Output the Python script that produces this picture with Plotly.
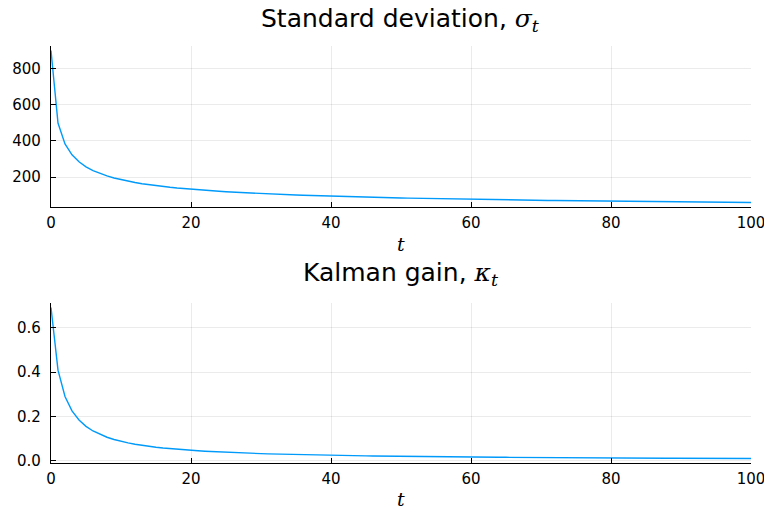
import plotly.graph_objects as go

t = list(range(101))

sigma = [900.0, 499.2, 383.8, 323.3, 284.6, 257.1, 236.4, 219.9, 206.5, 195.2,
         185.7, 177.4, 170.1, 163.6, 157.9, 152.7, 148.0, 143.7, 139.7, 136.1,
         132.7, 129.6, 126.6, 123.9, 121.4, 118.9, 116.7, 114.5, 112.5, 110.6,
         108.7, 107.0, 105.3, 103.8, 102.2, 100.8, 99.4, 98.1, 96.8, 95.5,
         94.3, 93.2, 92.1, 91.0, 90.0, 89.0, 88.0, 87.1, 86.2, 85.3,
         84.5, 83.7, 82.9, 82.1, 81.3, 80.6, 79.9, 79.2, 78.5, 77.8,
         77.2, 76.5, 75.9, 75.3, 74.7, 74.2, 73.6, 73.1, 72.5, 72.0,
         71.5, 71.0, 70.5, 70.0, 69.5, 69.1, 68.6, 68.2, 67.7, 67.3,
         66.9, 66.5, 66.1, 65.7, 65.3, 64.9, 64.5, 64.2, 63.8, 63.4,
         63.1, 62.7, 62.4, 62.1, 61.7, 61.4, 61.1, 60.8, 60.5, 60.2,
         59.9]

kappa = [0.6923, 0.4091, 0.2903, 0.2250, 0.1837, 0.1552, 0.1343, 0.1184, 0.1059, 0.0957,
         0.0874, 0.0804, 0.0744, 0.0692, 0.0647, 0.0608, 0.0573, 0.0542, 0.0514, 0.0489,
         0.0466, 0.0446, 0.0427, 0.0409, 0.0393, 0.0378, 0.0364, 0.0352, 0.0340, 0.0328,
         0.0318, 0.0308, 0.0299, 0.0290, 0.0282, 0.0274, 0.0267, 0.0260, 0.0254, 0.0247,
         0.0241, 0.0236, 0.0230, 0.0225, 0.0220, 0.0215, 0.0211, 0.0206, 0.0202, 0.0198,
         0.0194, 0.0191, 0.0187, 0.0184, 0.0180, 0.0177, 0.0174, 0.0171, 0.0168, 0.0165,
         0.0163, 0.0160, 0.0158, 0.0155, 0.0153, 0.0151, 0.0148, 0.0146, 0.0144, 0.0142,
         0.0140, 0.0138, 0.0136, 0.0134, 0.0133, 0.0131, 0.0129, 0.0127, 0.0126, 0.0124,
         0.0123, 0.0121, 0.0120, 0.0118, 0.0117, 0.0116, 0.0114, 0.0113, 0.0112, 0.0111,
         0.0109, 0.0108, 0.0107, 0.0106, 0.0105, 0.0104, 0.0103, 0.0102, 0.0101, 0.0100,
         0.0099]

x_ticks = [0, 20, 40, 60, 80, 100]
sigma_ticks = [200, 400, 600, 800]
kappa_ticks = [0.0, 0.2, 0.4, 0.6]

W, H = 764, 512
LINE = "#009AFA"
FONT = "DejaVu Sans"
MATH = "DejaVu Serif"

def px_x(p):
    return p / W

def px_y(p):
    return 1 - p / H

def span(lo, hi):
    d = hi - lo
    return [lo - 0.03 * d, hi + 0.03 * d]

fig = go.Figure()
fig.add_trace(go.Scatter(x=t, y=sigma, mode="lines", line=dict(color=LINE, width=1.4),
                         xaxis="x", yaxis="y", showlegend=False))
fig.add_trace(go.Scatter(x=t, y=kappa, mode="lines", line=dict(color=LINE, width=1.4),
                         xaxis="x2", yaxis="y2", showlegend=False))

ax_common = dict(showline=True, linecolor="black", linewidth=1.2, mirror=False,
                 ticks="inside", ticklen=5, tickcolor="black", tickwidth=1.2,
                 showgrid=True, gridcolor="rgba(0,0,0,0.08)", gridwidth=1,
                 zeroline=False, automargin=False, ticklabeloverflow="allow",
                 tickfont=dict(family=FONT, size=15, color="black"))

xdom = [px_x(51), px_x(751)]
fig.update_layout(
    width=W, height=H, margin=dict(l=0, r=0, t=0, b=0, autoexpand=False),
    paper_bgcolor="white", plot_bgcolor="white",
    xaxis=dict(domain=xdom, anchor="y", range=[0, 100], tickvals=x_ticks,
               ticktext=[str(v) for v in x_ticks], ticklabelstandoff=2, **ax_common),
    yaxis=dict(domain=[px_y(207), px_y(46)], anchor="x", range=span(min(sigma), max(sigma)),
               tickvals=sigma_ticks, ticktext=[str(v) for v in sigma_ticks],
               ticklabelstandoff=6, **ax_common),
    xaxis2=dict(domain=xdom, anchor="y2", range=[0, 100], tickvals=x_ticks,
                ticktext=[str(v) for v in x_ticks], ticklabelstandoff=2, **ax_common),
    yaxis2=dict(domain=[px_y(463), px_y(303)], anchor="x2", range=span(min(kappa), max(kappa)),
                tickvals=kappa_ticks, ticktext=["%.1f" % v for v in kappa_ticks],
                ticklabelstandoff=6, **ax_common),
)

def ann(x, y, text, size):
    fig.add_annotation(x=px_x(x), y=px_y(y), xref="paper", yref="paper", text=text,
                       showarrow=False, xanchor="center", yanchor="middle",
                       font=dict(family=FONT, size=size, color="black"))

ann(400, 20, "Standard deviation, <span style='font-family:%s'><i>σ</i><sub><i>t</i></sub></span>" % MATH, 25)
ann(401, 274, "Kalman gain, <span style='font-family:%s'><i>κ</i><sub><i>t</i></sub></span>" % MATH, 25)
ann(401, 244, "<span style='font-family:%s'><i>t</i></span>" % MATH, 19)
ann(401, 499, "<span style='font-family:%s'><i>t</i></span>" % MATH, 19)

fig.write_html("out.html", config={"displayModeBar": False},
               post_script="document.body.style.margin='0';document.body.style.overflow='hidden';")
